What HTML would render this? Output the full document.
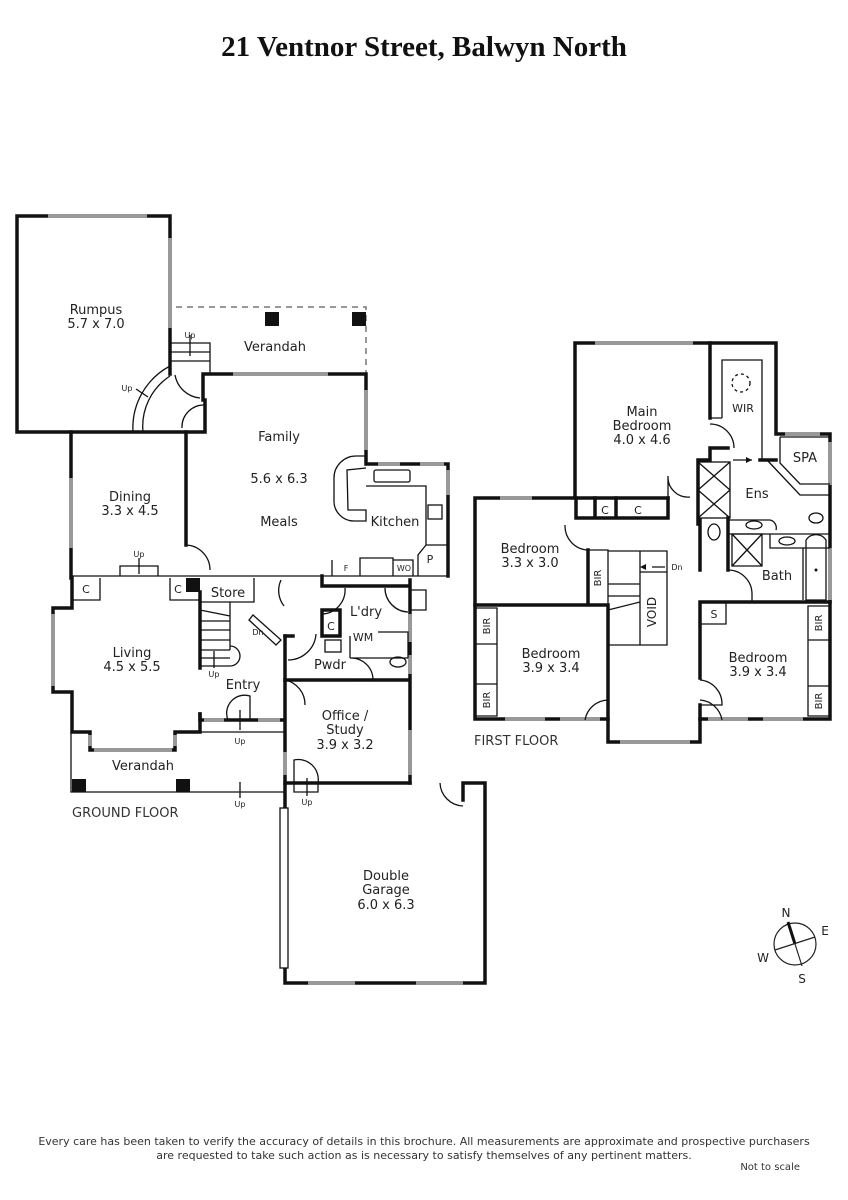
<!DOCTYPE html>
<html><head><meta charset="utf-8"><style>
html,body{margin:0;padding:0;background:#fff;}
svg{display:block;}
text{font-family:"DejaVu Sans","Liberation Sans",sans-serif;fill:#222;}
.w{stroke:#111;stroke-width:3.5;fill:none;stroke-linecap:square;}
.t{stroke:#111;stroke-width:1.3;fill:none;}
.win{stroke:#999;stroke-width:4;fill:none;}
.l{font-size:13px;text-anchor:middle;}
.s{font-size:10px;text-anchor:middle;}
.xs{font-size:8px;text-anchor:middle;}
</style></head><body>
<svg width="848" height="1200" viewBox="0 0 848 1200" xmlns="http://www.w3.org/2000/svg">
<text x="424" y="56" style="font-family:'Liberation Serif',serif;font-weight:bold;font-size:29px;text-anchor:middle;fill:#111">21 Ventnor Street, Balwyn North</text>

<!-- GROUND FLOOR -->
<path class="w" d="M170,374 L170,216 L17,216 L17,432 L205,432 L205,400"/>
<path class="win" d="M48,216 L147,216 M170,238 L170,328"/>
<text class="l" x="96" y="314">Rumpus</text>
<text class="l" x="96" y="328">5.7 x 7.0</text>
<path d="M176,307 L366,307 L366,374" stroke="#777" stroke-width="1.5" stroke-dasharray="6,5" fill="none"/>
<rect x="265" y="312" width="14" height="14" fill="#111"/>
<rect x="352" y="312" width="14" height="14" fill="#111"/>
<path class="t" d="M171,343 L210,343 L210,374 M171,352 L210,352 M171,361 L210,361 M190,335 L190,356"/>
<text class="xs" x="190" y="338">Up</text>
<text class="l" x="275" y="351">Verandah</text>
<path class="t" d="M170,366 A70,70 0 0 0 133,432 M170,376 A60,60 0 0 0 143,432"/>
<text class="xs" x="127" y="391">Up</text>
<path class="t" d="M136,389 L148,397"/>
<path class="w" d="M203,400 L203,374 L366,374 L366,464 L448,464 L448,576"/>
<path class="win" d="M233,374 L328,374 M366,390 L366,450 M378,464 L400,464 M420,464 L444,464 M448,470 L448,495"/>
<path class="t" d="M175,375 A28,28 0 0 0 200,398 M205,405 A22,22 0 0 0 182,428"/>
<text class="l" x="279" y="441">Family</text>
<text class="l" x="279" y="483">5.6 x 6.3</text>
<text class="l" x="279" y="526">Meals</text>
<path class="t" d="M366,456 L356,456 A22,22 0 0 0 334,478 L334,500 A20,20 0 0 0 354,521 L366,521 L366,510 L348,510 L347,470 L366,468 M366,486 L426,486 L426,545 L448,545 M426,545 L418,555 L418,576"/>
<rect x="374" y="470" width="36" height="12" rx="2" class="t"/>
<rect x="428" y="505" width="14" height="14" class="t"/>
<text class="l" x="395" y="526">Kitchen</text>
<text class="xs" x="430" y="563" style="font-size:11px">P</text>
<path class="t" d="M332,576 L332,560 M360,576 L360,558 L393,558 L393,576 M393,560 L413,560 L413,576"/>
<text class="xs" x="346" y="571">F</text><text class="xs" x="404" y="571">WO</text>
<path class="w" d="M71,432 L71,578 M186,432 L186,545"/>
<path class="win" d="M71,478 L71,548"/>
<path class="t" d="M186,545 A25,25 0 0 1 210,570"/>
<text class="l" x="130" y="501">Dining</text>
<text class="l" x="130" y="515">3.3 x 4.5</text>
<path class="t" d="M71,576 L448,576 M120,576 L120,566 L158,566 L158,576 M139,558 L139,574"/>
<text class="xs" x="139" y="557">Up</text>
<path class="w" d="M72,578 L72,608 L53,608 L53,692 L72,692 L72,732 L90,732 L90,750 L175,750 L175,732 L200,732 L200,714"/>
<path class="win" d="M53,614 L53,686 M94,750 L172,750 M90,735 L90,746 M175,735 L175,746"/>
<path class="t" d="M72,578 L72,600 L100,600 L100,578 M170,578 L170,600 L200,600"/>
<text class="xs" x="86" y="593" style="font-size:11px">C</text>
<text class="xs" x="178" y="593" style="font-size:11px">C</text>
<rect x="186" y="578" width="14" height="14" fill="#111"/>
<path class="w" d="M200,592 L200,668"/>
<text class="l" x="132" y="657">Living</text>
<text class="l" x="132" y="671">4.5 x 5.5</text>
<path class="t" d="M200,602 L254,602 L254,578 M230,602 L230,650 M200,610 L230,616 M200,621 L230,621 M200,630 L230,630 M200,640 L230,640 M200,650 L230,650 M200,658 L230,658 M230,646 A10,10 0 0 1 230,666 L200,666 M214,651 L214,668"/>
<text class="l" x="228" y="597">Store</text>
<text class="xs" x="214" y="677">Up</text>
<path class="t" d="M253,615 L281,640 L276,645 L249,620 Z"/>
<text class="xs" x="258" y="635">Dn</text>
<path class="t" d="M281,580 A25,25 0 0 0 284,606"/>
<text class="l" x="243" y="689">Entry</text>
<path class="w" d="M200,714 L200,720 L285,720 M285,636 L285,810"/>
<path class="win" d="M204,720 L224,720 M258,720 L280,720"/>
<path class="t" d="M228,720 A18,18 0 0 1 250,696 L250,720 M200,732 L285,732 M240,710 L240,730"/>
<text class="xs" x="240" y="744">Up</text>
<path class="t" d="M71,732 L71,792 L285,792"/>
<rect x="72" y="779" width="14" height="13" fill="#111"/>
<rect x="176" y="779" width="14" height="13" fill="#111"/>
<text class="l" x="143" y="770">Verandah</text>
<path class="t" d="M240,782 L240,798"/>
<text class="xs" x="240" y="807">Up</text>
<text x="72" y="817" style="font-size:13px;fill:#333">GROUND FLOOR</text>
<path class="w" d="M322,576 L322,586 L410,586 M410,580 L410,783 M285,680 L410,680 M285,636 L293,636 M322,610 L322,636 L340,636 L340,610 L322,610"/>
<path class="win" d="M410,614 L410,642 M410,655 L410,674"/>
<path class="t" d="M322,614 A24,24 0 0 0 345,588 M385,588 A24,24 0 0 0 408,612 M410,590 L426,590 L426,610 L410,610 M288,660 A28,28 0 0 0 316,634 M350,658 L408,658 M350,636 L350,658 M350,680 L373,680 A22,22 0 0 0 350,658 M378,632 L408,632 L408,658"/>
<text class="xs" x="331" y="630" style="font-size:11px">C</text>
<text class="l" x="366" y="616">L'dry</text>
<text class="xs" x="363" y="641" style="font-size:11px">WM</text>
<text class="l" x="330" y="669">Pwdr</text>
<ellipse cx="398" cy="662" rx="8" ry="5" class="t"/>
<rect x="325" y="640" width="16" height="12" class="t"/>
<path class="t" d="M285,680 A25,25 0 0 1 305,705"/>
<text class="l" x="345" y="720">Office /</text>
<text class="l" x="345" y="734">Study</text>
<text class="l" x="345" y="749">3.9 x 3.2</text>
<path class="win" d="M410,730 L410,775 M285,752 L285,775"/>
<path class="t" d="M294,783 L294,760 A20,20 0 0 1 318,783 L318,792 L294,792 L294,783 M307,778 L307,796"/>
<text class="xs" x="307" y="805">Up</text>
<path class="w" d="M285,783 L410,783 M463,800 L463,783 L485,783 L485,983 L285,983 L285,810"/>
<path class="t" d="M440,783 A24,24 0 0 0 463,806"/>
<rect x="280" y="808" width="8" height="160" fill="#fff" stroke="#111" stroke-width="1.3"/>
<path class="win" d="M308,983 L355,983 M416,983 L463,983"/>
<text class="l" x="386" y="880">Double</text>
<text class="l" x="386" y="894">Garage</text>
<text class="l" x="386" y="909">6.0 x 6.3</text>

<!-- FIRST FLOOR -->
<path class="w" d="M575,498 L575,343 L776,343 L776,434 L830,434 L830,719 L700,719 L700,742 L608,742 L608,719 L475,719 L475,498 L668,498"/>
<path class="win" d="M595,343 L693,343 M500,498 L532,498 M830,442 L830,485 M830,548 L830,600 M505,719 L545,719 M560,719 L600,719 M620,742 L690,742 M708,719 L748,719 M763,719 L803,719 M785,434 L820,434"/>
<text class="l" x="642" y="416">Main</text>
<text class="l" x="642" y="430">Bedroom</text>
<text class="l" x="642" y="444">4.0 x 4.6</text>
<path class="w" d="M710,343 L710,418 M710,448 L710,460 L698,460 L698,524 M710,448 L728,448 M760,460 L776,460"/>
<path class="t" d="M722,418 L722,360 L762,360 L762,460 M710,418 L722,418 M710,424 A24,24 0 0 1 734,448 M733,460 L752,460"/>
<circle cx="741" cy="383" r="9" class="t" stroke-dasharray="3,3"/>
<text class="xs" x="743" y="412" style="font-size:11px">WIR</text>
<path d="M752,460 l-6,-3 v6z" fill="#111"/>
<path class="t" d="M780,437 L830,437 M780,437 L780,463 L800,484 L830,484 M767,460 L800,495 L830,495 M728,520 L770,520 A8,8 0 0 1 776,530 M728,534 L830,534"/>
<text class="l" x="805" y="462">SPA</text>
<text class="l" x="757" y="498">Ens</text>
<ellipse cx="816" cy="518" rx="7" ry="5" class="t"/>
<ellipse cx="754" cy="525" rx="8" ry="4" class="t"/>
<rect x="698" y="462" width="32" height="56" class="t"/>
<path class="t" d="M698,462 L730,490 M730,462 L698,490 M698,490 L730,518 M730,490 L698,518"/>
<path class="w" d="M700,520 L700,570 M728,518 L728,570 M728,534 L728,560"/>
<ellipse cx="714" cy="532" rx="6" ry="8" class="t"/>
<path class="t" d="M732,534 L762,534 L762,566 L732,566 Z M732,534 L762,566 M762,534 L732,566 M770,534 L770,548 L803,548 L803,600 M803,548 L830,548 M806,540 A12,12 0 0 1 826,540 L826,600 L806,600 L806,540 M728,570 A24,24 0 0 1 752,594 L752,602 L728,602"/>
<ellipse cx="787" cy="541" rx="8" ry="4" class="t"/>
<circle cx="816" cy="570" r="1.5" fill="#111"/>
<text class="l" x="777" y="580">Bath</text>
<path class="w" d="M700,602 L830,602 M700,602 L700,678 M700,705 L700,719"/>
<path class="t" d="M700,602 L700,624 L726,624 L726,602 M808,606 L830,606 L830,640 L808,640 Z M808,686 L830,686 L830,716 L808,716 Z M808,640 L808,686 M700,680 A24,24 0 0 1 722,705 L700,705"/>
<text class="xs" x="714" y="618" style="font-size:11px">S</text>
<text class="xs" transform="translate(822,623) rotate(-90)" style="font-size:10px">BIR</text>
<text class="xs" transform="translate(822,701) rotate(-90)" style="font-size:10px">BIR</text>
<text class="l" x="758" y="662">Bedroom</text>
<text class="l" x="758" y="676">3.9 x 3.4</text>
<path class="t" d="M608,551 L667,551 L667,645 L608,645 M640,551 L640,645 M608,584 L640,584 M608,596 L640,596 M608,610 L640,602 M640,572 L667,572 M652,567 L665,567"/>
<path d="M640,567 l6,-3 v6z" fill="#111"/>
<text class="xs" x="677" y="570">Dn</text>
<text class="xs" transform="translate(656,612) rotate(-90)" style="font-size:12px">VOID</text>
<path class="w" d="M475,605 L608,605 L608,719 M588,550 L588,605 M576,498 L576,518 L668,518 L668,498 M616,518 L616,498 M595,518 L595,498"/>
<path class="t" d="M588,550 L608,550 L608,605 M565,525 A24,24 0 0 0 588,550 M668,500 L668,476 A20,20 0 0 0 690,497 M608,700 A24,24 0 0 0 585,720 M700,700 A24,24 0 0 1 722,720"/>
<text class="xs" x="605" y="514" style="font-size:11px">C</text>
<text class="xs" x="638" y="514" style="font-size:11px">C</text>
<text class="xs" transform="translate(601,578) rotate(-90)" style="font-size:10px">BIR</text>
<text class="l" x="530" y="553">Bedroom</text>
<text class="l" x="530" y="567">3.3 x 3.0</text>
<path class="t" d="M475,608 L497,608 L497,644 L475,644 M497,644 L497,684 M475,684 L497,684 L497,716 L475,716"/>
<text class="xs" transform="translate(490,626) rotate(-90)" style="font-size:10px">BIR</text>
<text class="xs" transform="translate(490,700) rotate(-90)" style="font-size:10px">BIR</text>
<text class="l" x="551" y="658">Bedroom</text>
<text class="l" x="551" y="672">3.9 x 3.4</text>
<text x="474" y="745" style="font-size:13px;fill:#333">FIRST FLOOR</text>

<circle cx="795" cy="944" r="21" fill="none" stroke="#222" stroke-width="1.2"/>
<path d="M788,922 L795,944" stroke="#111" stroke-width="3"/>
<path d="M795,944 L802,966 M775,950 L815,937" stroke="#222" stroke-width="1.2"/>
<text x="786" y="917" style="font-size:12px;text-anchor:middle">N</text>
<text x="825" y="935" style="font-size:12px;text-anchor:middle">E</text>
<text x="763" y="962" style="font-size:12px;text-anchor:middle">W</text>
<text x="802" y="983" style="font-size:12px;text-anchor:middle">S</text>

<text x="424" y="1145" style="font-size:11px;text-anchor:middle;fill:#333">Every care has been taken to verify the accuracy of details in this brochure.  All measurements are approximate and prospective purchasers</text>
<text x="424" y="1159" style="font-size:11px;text-anchor:middle;fill:#333">are requested to take such action as is necessary to satisfy themselves of any pertinent matters.</text>
<text x="800" y="1170" style="font-size:10px;text-anchor:end;fill:#333">Not to scale</text>
</svg>
</body></html>
